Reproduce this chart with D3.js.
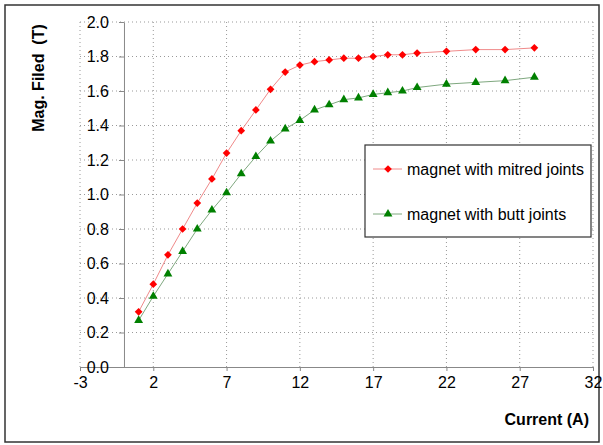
<!DOCTYPE html>
<html>
<head>
<meta charset="utf-8">
<script src="https://cdn.jsdelivr.net/npm/d3@7"></script>
<style>
  body { margin: 0; background: #fff; }
  svg text { font-family: Arial, 'Liberation Sans', sans-serif; }
</style>
</head>
<body>
<svg id="chart" width="603" height="445"></svg>
<script>
const currents = [1, 2, 3, 4, 5, 6, 7, 8, 9, 10, 11, 12, 13, 14, 15, 16, 17, 18, 19, 20, 22, 24, 26, 28]
const mitred = [0.32, 0.48, 0.65, 0.80, 0.95, 1.09, 1.24, 1.37, 1.49, 1.61, 1.71, 1.75, 1.77, 1.78, 1.79, 1.79, 1.80, 1.81, 1.81, 1.82, 1.83, 1.84, 1.84, 1.85]
const butt = [0.27, 0.41, 0.54, 0.67, 0.80, 0.91, 1.01, 1.12, 1.22, 1.31, 1.38, 1.43, 1.49, 1.52, 1.55, 1.56, 1.58, 1.59, 1.60, 1.62, 1.64, 1.65, 1.66, 1.68]
const xTicks = [-3, 2, 7, 12, 17, 22, 27, 32]
const yTicks = [0, 0.2, 0.4, 0.6, 0.8, 1.0, 1.2, 1.4, 1.6, 1.8, 2.0]
const seriesNames = ['magnet with mitred joints', 'magnet with butt joints']

const svg = d3.select('#chart')

const x = d3.scaleLinear().domain([-3, 32]).range([80, 593])
const y = d3.scaleLinear().domain([0, 2]).range([367, 22])

// outer frame
svg.append('rect').attr('x', 5).attr('y', 5).attr('width', 594).attr('height', 437)
  .attr('fill', 'none').attr('stroke', '#333').attr('stroke-width', 1.5)

// dotted grid
const grid = svg.append('g').attr('class', 'grid')
grid.selectAll('.hgrid').data(yTicks.filter(d => d > 0)).enter().append('line')
  .attr('x1', x(-3)).attr('x2', x(32))
  .attr('y1', d => y(d)).attr('y2', d => y(d))
  .attr('stroke', '#999').attr('stroke-dasharray', '1,3')
grid.selectAll('.vgrid').data(xTicks).enter().append('line')
  .attr('x1', d => x(d)).attr('x2', d => x(d))
  .attr('y1', y(0)).attr('y2', y(2))
  .attr('stroke', '#999').attr('stroke-dasharray', '1,3')

// x axis along y = 0
const xAxis = svg.append('g')
  .attr('transform', `translate(0,${y(0)})`)
  .call(d3.axisBottom(x).tickValues(xTicks).tickFormat(d3.format('d')).tickSize(4).tickPadding(6).tickSizeOuter(0))
xAxis.select('.domain').attr('stroke', '#888')
xAxis.selectAll('.tick line').attr('stroke', '#888')
xAxis.selectAll('.tick text').attr('font-size', '16px').attr('fill', '#000')
  .text(d => d < 0 ? '-' + Math.abs(d) : d)

// y axis along x = 0
const yAxis = svg.append('g')
  .attr('transform', `translate(${x(0)},0)`)
  .call(d3.axisLeft(y).tickValues(yTicks).tickFormat(d3.format('.1f')).tickSize(5).tickPadding(10).tickSizeOuter(0))
yAxis.select('.domain').attr('stroke', '#888')
yAxis.selectAll('.tick line').attr('stroke', '#888')
yAxis.selectAll('.tick text').attr('font-size', '16px').attr('fill', '#000')

// axis titles
svg.append('text').attr('x', 589).attr('y', 425).attr('text-anchor', 'end')
  .attr('font-size', '16px').attr('font-weight', 'bold').text('Current (A)')
svg.append('text').attr('transform', 'translate(44,78) rotate(-90)').attr('text-anchor', 'middle')
  .attr('font-size', '16px').attr('font-weight', 'bold').style('white-space', 'pre').text('Mag. Filed  (T)')

const series = [
  { name: seriesNames[0], values: mitred, line: '#f08a8a', fill: '#ff0000', symbol: d3.symbolSquare, size: 30, rotate: 45 },
  { name: seriesNames[1], values: butt, line: '#7fa87f', fill: '#008000', symbol: d3.symbolTriangle, size: 34, rotate: 0 }
]

const line = d3.line().x(d => x(d[0])).y(d => y(d[1]))

series.forEach(s => {
  const pts = currents.map((c, i) => [c, s.values[i]])
  svg.append('path').datum(pts).attr('d', line)
    .attr('fill', 'none').attr('stroke', s.line).attr('stroke-width', 1)
  svg.append('g').selectAll('path').data(pts).enter().append('path')
    .attr('d', d3.symbol().type(s.symbol).size(s.size))
    .attr('transform', d => `translate(${x(d[0])},${y(d[1])}) rotate(${s.rotate})`)
    .attr('fill', s.fill)
})

// legend
const legend = svg.append('g')
legend.append('rect').attr('x', 365).attr('y', 145).attr('width', 226).attr('height', 92)
  .attr('fill', '#fff').attr('stroke', '#333').attr('stroke-width', 1.2)
series.forEach((s, i) => {
  const ly = 169 + i * 45
  legend.append('line').attr('x1', 373).attr('x2', 402).attr('y1', ly).attr('y2', ly)
    .attr('stroke', s.line).attr('stroke-width', 1)
  legend.append('path').attr('d', d3.symbol().type(s.symbol).size(s.size))
    .attr('transform', `translate(388,${ly}) rotate(${s.rotate})`).attr('fill', s.fill)
  legend.append('text').attr('x', 407).attr('y', ly + 6).attr('font-size', '16px').text(s.name)
})
</script>
</body>
</html>
